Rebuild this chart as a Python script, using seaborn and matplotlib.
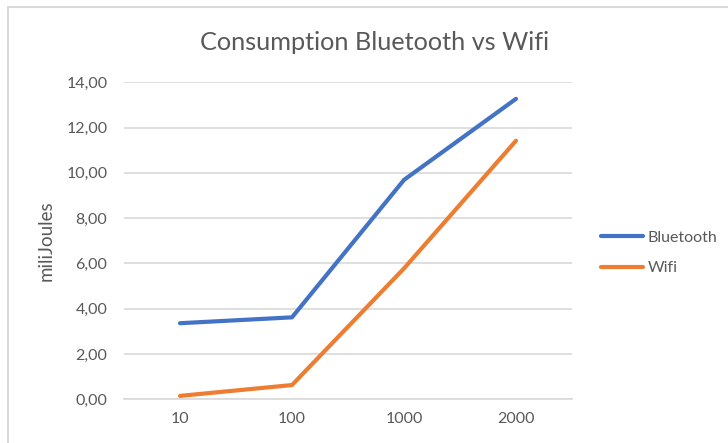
import matplotlib
matplotlib.use("Agg")
import matplotlib.pyplot as plt
from matplotlib.patches import Rectangle
from matplotlib.lines import Line2D
import seaborn as sns
import pandas as pd

# Message sizes (x categories) and energy per transfer
sizes = ["10", "100", "1000", "2000"]
bluetooth = [3.36, 3.62, 9.69, 13.27]
wifi = [0.15, 0.63, 5.78, 11.42]
series_names = ["Bluetooth", "Wifi"]
series_colors = ["#4472C4", "#ED7D31"]
y_ticks = [0, 2, 4, 6, 8, 10, 12, 14]

df = pd.DataFrame({
    "size": sizes * 2,
    "energy": bluetooth + wifi,
    "tech": [series_names[0]] * len(sizes) + [series_names[1]] * len(sizes),
})

sns.set_theme(style="white")
plt.rcParams["font.family"] = ["Lato", "DejaVu Sans"]
text_gray = "#595959"
grid_gray = "#D9D9D9"

fig = plt.figure(figsize=(7.28, 4.43), dpi=100)
ax = fig.add_axes([124 / 728, 1 - 399.3 / 443, 448 / 728, 317 / 443])

sns.lineplot(data=df, x="size", y="energy", hue="tech", sort=False,
             palette=series_colors, linewidth=3.0, ax=ax, legend=False)
for ln in ax.lines:
    ln.set_solid_capstyle("round")
    ln.set_solid_joinstyle("round")

ax.set_xlim(-0.5, len(sizes) - 0.5)
ax.set_ylim(0, 14)
ax.set_yticks(y_ticks)
ax.set_yticklabels([f"{v:.2f}".replace(".", ",") for v in y_ticks])
ax.yaxis.grid(True, color=grid_gray, linewidth=1.2)
ax.xaxis.grid(False)
ax.set_axisbelow(True)
for s in ax.spines.values():
    s.set_visible(False)
ax.spines["bottom"].set_visible(True)
ax.spines["bottom"].set_color(grid_gray)
ax.spines["bottom"].set_linewidth(1.2)
ax.tick_params(axis="both", length=0, labelsize=11.5, labelcolor=text_gray)
ax.tick_params(axis="y", pad=12)
ax.tick_params(axis="x", pad=9)
ax.set_xlabel("")
ax.set_ylabel("miliJoules", fontsize=13.5, color=text_gray, labelpad=8)

fig.text(375 / 728, 1 - 42 / 443, "Consumption Bluetooth vs Wifi",
         ha="center", va="center", fontsize=18.2, color=text_gray)

handles = [Line2D([], [], color=c, linewidth=3.0, solid_capstyle="round")
           for c in series_colors]
fig.legend(handles, series_names, loc="center left",
           bbox_to_anchor=(595 / 728, 1 - 253 / 443), frameon=False,
           fontsize=11.5, labelcolor=text_gray, handlelength=2.6,
           handletextpad=0.3, labelspacing=1.0, borderaxespad=0)

# Outer chart border
fig.patches.append(Rectangle((8 / 728, -0.05), 1.1, 1 - 7 / 443 + 0.05,
                             transform=fig.transFigure, fill=False,
                             edgecolor=grid_gray, linewidth=1.5))

fig.savefig("out.png", dpi=100)
